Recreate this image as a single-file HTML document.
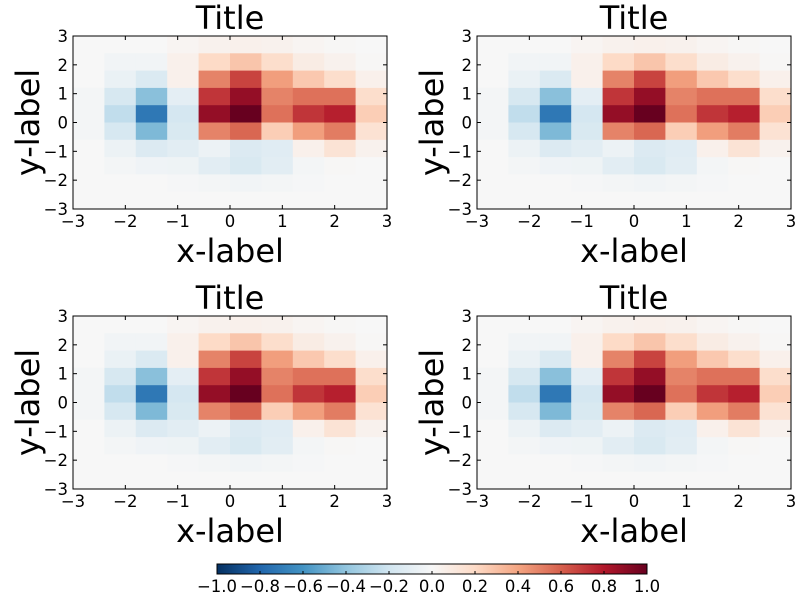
<!DOCTYPE html>
<html><head><meta charset="utf-8"><style>
body{margin:0;background:#fff;}
svg{display:block;font-family:"DejaVu Sans","Liberation Sans",sans-serif;}
</style></head><body>
<svg id="s" width="800" height="600" xmlns="http://www.w3.org/2000/svg">
<defs><linearGradient id="cg" x1="0" x2="1" y1="0" y2="0"></linearGradient></defs>
</svg>
<script>
// heatmap values, rows from top (y=3) to bottom (y=-3), cols x=-3..3
const xTicks = [-3,-2,-1,0,1,2,3];
const yTicks = [3,2,1,0,-1,-2,-3];
const cbTicks = [-1.0,-0.8,-0.6,-0.4,-0.2,0.0,0.2,0.4,0.6,0.8,1.0];
const row0 = [0,0,0,0.02,0.04,0.05,0.04,0.02,0.01,0];
const row1 = [0,-0.03,-0.03,0.05,0.2,0.28,0.18,0.08,0.04,0.01];
const row2 = [0,-0.07,-0.15,0.05,0.5,0.68,0.42,0.27,0.18,0.05];
const row3 = [-0.02,-0.17,-0.42,-0.1,0.72,0.88,0.5,0.55,0.55,0.18];
const row4 = [-0.02,-0.25,-0.72,-0.18,0.88,1.0,0.55,0.72,0.78,0.25];
const row5 = [-0.02,-0.17,-0.45,-0.16,0.5,0.58,0.25,0.42,0.52,0.15];
const row6 = [0,-0.06,-0.14,-0.11,-0.06,-0.14,-0.12,0.05,0.14,0.04];
const row7 = [0,-0.02,-0.04,-0.05,-0.11,-0.16,-0.11,-0.02,0.01,0];
const row8 = [0,0,0,-0.01,-0.02,-0.03,-0.02,-0.01,0,0];
const row9 = [0,0,0,0,0,0,0,0,0,0];
const rows = [row0,row1,row2,row3,row4,row5,row6,row7,row8,row9];

const cmap=["053061","2166ac","4393c3","92c5de","d1e5f0","f7f7f7","fddbc7","f4a582","d6604d","b2182b","67001f"];
function color(v){
  v=Math.max(-1,Math.min(1,v));let t=(v+1)/2*10;let i=Math.min(9,Math.floor(t));let f=t-i;
  const a=cmap[i],b=cmap[i+1];let c=[0,2,4].map(k=>Math.round(parseInt(a.substr(k,2),16)*(1-f)+parseInt(b.substr(k,2),16)*f));
  return `rgb(${c.join(',')})`;
}
const NS="http://www.w3.org/2000/svg";
const svg=document.getElementById('s');
function el(tag,attrs,parent,text){const e=document.createElementNS(NS,tag);for(const k in attrs)e.setAttribute(k,attrs[k]);if(text!==undefined)e.textContent=text;(parent||svg).appendChild(e);return e;}
function fmt(v){return (v<0?'\u2212':'')+Math.abs(v);}
const panels=[[73,36,387,209],[477,36,791,209],[73,316,387,489],[477,316,791,489]];
panels.forEach((p,pi)=>{
  const [x0,y0,x1,y1]=p;
  const g=el('g',{});
  
  
  const sx=v=>x0+(v+3)/6*(x1-x0), sy=v=>y1-(v+3)/6*(y1-y0);
  const n=rows.length;
  rows.forEach((r,ri)=>r.forEach((v,ci)=>{
    const xa=-3+ci*6/r.length, xb=-3+(ci+1)*6/r.length;
    const ya=3-ri*6/n, yb=3-(ri+1)*6/n;
    const c=el('rect',{x:sx(xa),y:sy(ya),width:sx(xb)-sx(xa)+0.5,height:sy(yb)-sy(ya)+0.5,fill:color(v)},g);
    
    
  }));
  const fr=el('rect',{x:x0,y:y0,width:x1-x0,height:y1-y0,fill:'none',stroke:'#000','stroke-width':1},g);
  
  
  xTicks.forEach(t=>{const X=sx(t);
    el('line',{x1:X,x2:X,y1:y1,y2:y1-4,stroke:'#000'},g);el('line',{x1:X,x2:X,y1:y0,y2:y0+4,stroke:'#000'},g);
    const tl=el('text',{x:X,y:y1+18,'font-size':16.5,'text-anchor':'middle'},g,fmt(t));
    
    
  });
  yTicks.forEach(t=>{const Y=sy(t);
    el('line',{x1:x0,x2:x0+4,y1:Y,y2:Y,stroke:'#000'},g);el('line',{x1:x1,x2:x1-4,y1:Y,y2:Y,stroke:'#000'},g);
    const tl=el('text',{x:x0-5,y:Y+6,'font-size':16.5,'text-anchor':'end'},g,fmt(t));
    
    
  });
  const cx=(x0+x1)/2;
  const ti=el('text',{x:cx,y:y0-7,'font-size':32,'text-anchor':'middle'},g,'Title');
  
  
  const xl=el('text',{x:cx,y:y1+53,'font-size':32,'text-anchor':'middle'},g,'x-label');
  
  
  const cy=(y0+y1)/2, lx=x0-34;
  const yl=el('text',{x:lx,y:cy,'font-size':32,'text-anchor':'middle',transform:`rotate(-90 ${lx} ${cy})`},g,'y-label');
  
  
});
// colorbar
const grad=document.getElementById('cg');
cmap.forEach((c,i)=>el('stop',{offset:(i*10)+'%','stop-color':'#'+c},grad));
const cb=el('g',{});


const cbx0=217,cbx1=647,cby0=564,cby1=574;
el('rect',{x:cbx0,y:cby0,width:cbx1-cbx0,height:cby1-cby0,fill:'url(#cg)',stroke:'#000'},cb);
cbTicks.forEach(t=>{const X=cbx0+(t+1)/2*(cbx1-cbx0);
  el('line',{x1:X,x2:X,y1:cby1,y2:cby1-3,stroke:'#000'},cb);
  const tl=el('text',{x:X,y:cby1+18,'font-size':16.5,'text-anchor':'middle'},cb,(t<0?'\u2212':'')+Math.abs(t).toFixed(1));
  
  
});
</script>
</body></html>
